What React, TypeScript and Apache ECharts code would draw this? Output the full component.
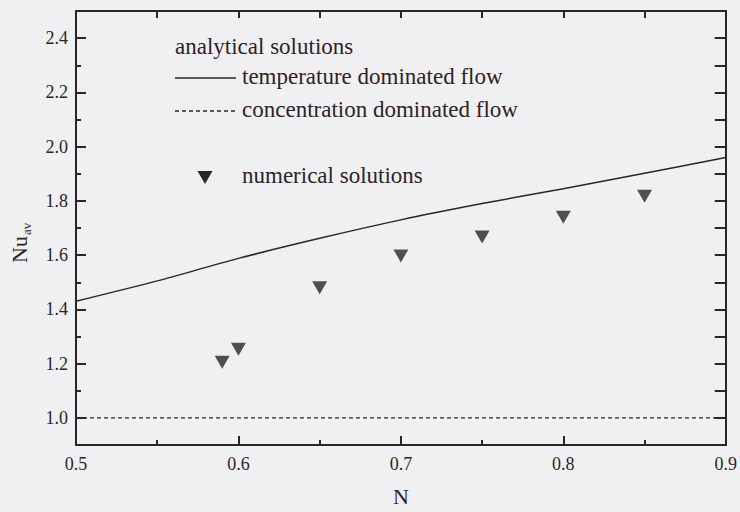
import React, { useEffect, useRef } from "react";
import * as echarts from "echarts";

const nAnalytical = [0.5, 0.55, 0.6, 0.65, 0.7, 0.75, 0.8, 0.85, 0.9];
const nuTemperature = [1.43, 1.505, 1.588, 1.662, 1.73, 1.79, 1.845, 1.902, 1.96];
const nConcentration = [0.5, 0.9];
const nuConcentration = [1.0, 1.0];
const nNumerical = [0.59, 0.6, 0.65, 0.7, 0.75, 0.8, 0.85];
const nuNumerical = [1.205, 1.253, 1.48, 1.597, 1.667, 1.74, 1.817];
const yMajorTicks = [1.0, 1.2, 1.4, 1.6, 1.8, 2.0, 2.2, 2.4];
const yMinorTicks = [1.1, 1.3, 1.5, 1.7, 1.9, 2.1, 2.3];
const yRightTicks = [1.0, 1.1, 1.2, 1.3, 1.4, 1.5, 1.6, 1.7, 1.8, 1.9, 2.0, 2.1, 2.2, 2.3, 2.4];
const xTopTicks = [0.55, 0.6, 0.65, 0.7, 0.75, 0.8, 0.85];
const legendTitle = "analytical solutions";
const legendTemp = "temperature dominated flow";
const legendConc = "concentration dominated flow";
const legendNum = "numerical solutions";

const INK = "#2e2329";
const FONT = "Liberation Serif";

export default function App() {
  const ref = useRef<HTMLDivElement>(null);
  useEffect(() => {
    if (!ref.current) return;
    const chart = echarts.init(ref.current, undefined, { renderer: "svg" });
    const yBase = {
      type: "value",
      min: 0.9,
      max: 2.5,
      splitLine: { show: false },
      axisLine: { show: false },
      axisLabel: { show: false },
    };
    const txt = (text: string, left: number, top: number, size = 23) => ({
      type: "text",
      left,
      top,
      style: { text, fill: INK, fontFamily: FONT, fontSize: size },
    });
    chart.setOption({
      animation: false,
      backgroundColor: "#f0f0f2",
      textStyle: { fontFamily: FONT },
      grid: { left: 76, right: 12, top: 11, bottom: 63, containLabel: false },
      xAxis: [
        {
          type: "value",
          min: 0.5,
          max: 0.9,
          interval: 0.1,
          position: "bottom",
          splitLine: { show: false },
          axisLine: { show: true, onZero: false, lineStyle: { color: INK, width: 2 } },
          axisTick: { show: true, inside: true, length: 9, lineStyle: { color: INK, width: 2 } },
          minorTick: { show: true, splitNumber: 2, length: 5, lineStyle: { color: INK, width: 2 } },
          axisLabel: {
            color: INK,
            fontFamily: FONT,
            fontSize: 18,
            margin: 10,
            formatter: (v: number) => v.toFixed(1),
          },
          name: "N",
          nameLocation: "middle",
          nameGap: 40,
          nameTextStyle: { color: INK, fontFamily: FONT, fontSize: 22 },
        },
        {
          type: "value",
          min: 0.5,
          max: 0.9,
          position: "top",
          splitLine: { show: false },
          axisLine: { show: true, onZero: false, lineStyle: { color: INK, width: 2 } },
          axisTick: {
            show: true,
            inside: true,
            length: 7,
            customValues: xTopTicks,
            lineStyle: { color: INK, width: 2 },
          },
          axisLabel: { show: false },
        },
      ],
      yAxis: [
        {
          ...yBase,
          position: "left",
          axisLine: { show: true, onZero: false, lineStyle: { color: INK, width: 2 } },
          axisTick: {
            show: true,
            inside: true,
            length: 10,
            customValues: yMajorTicks,
            lineStyle: { color: INK, width: 2 },
          },
          axisLabel: {
            show: true,
            customValues: yMajorTicks,
            color: INK,
            fontFamily: FONT,
            fontSize: 18,
            margin: 8,
            formatter: (v: number) => v.toFixed(1),
          },
        },
        {
          ...yBase,
          position: "left",
          axisTick: {
            show: true,
            inside: true,
            length: 5,
            customValues: yMinorTicks,
            lineStyle: { color: INK, width: 2 },
          },
        },
        {
          ...yBase,
          position: "right",
          axisLine: { show: true, onZero: false, lineStyle: { color: INK, width: 2 } },
          axisTick: {
            show: true,
            inside: true,
            length: 11,
            customValues: yRightTicks,
            lineStyle: { color: INK, width: 2 },
          },
        },
      ],
      series: [
        {
          type: "line",
          xAxisIndex: 0,
          yAxisIndex: 0,
          data: nAnalytical.map((n, i) => [n, nuTemperature[i]]),
          showSymbol: false,
          smooth: 0.3,
          lineStyle: { color: INK, width: 1.5 },
        },
        {
          type: "line",
          xAxisIndex: 0,
          yAxisIndex: 0,
          data: nConcentration.map((n, i) => [n, nuConcentration[i]]),
          showSymbol: false,
          lineStyle: { color: INK, width: 1.4, type: [4, 3] },
        },
        {
          type: "scatter",
          xAxisIndex: 0,
          yAxisIndex: 0,
          data: nNumerical.map((n, i) => [n, nuNumerical[i]]),
          symbol: "triangle",
          symbolRotate: 180,
          symbolSize: [15, 13],
          itemStyle: { color: INK },
        },
      ],
      graphic: [
        txt(legendTitle, 175, 35),
        {
          type: "line",
          shape: { x1: 175, y1: 78, x2: 236, y2: 78 },
          style: { stroke: INK, lineWidth: 1.4 },
        },
        txt(legendTemp, 242, 65),
        {
          type: "line",
          shape: { x1: 175, y1: 111, x2: 236, y2: 111 },
          style: { stroke: INK, lineWidth: 1.4, lineDash: [4, 3] },
        },
        txt(legendConc, 242, 98),
        {
          type: "polygon",
          shape: { points: [[197.5, 171], [212.5, 171], [205, 184]] },
          style: { fill: INK },
        },
        txt(legendNum, 242, 164),
        {
          type: "group",
          x: 19,
          y: 248,
          rotation: Math.PI / 2,
          children: [
            {
              type: "text",
              x: -15,
              y: 0,
              style: { text: "Nu", fill: INK, fontFamily: FONT, fontSize: 22, verticalAlign: "middle", align: "left" },
            },
            {
              type: "text",
              x: 13,
              y: 7,
              style: { text: "av", fill: INK, fontFamily: FONT, fontSize: 13, verticalAlign: "middle", align: "left" },
            },
          ],
        },
      ],
    });
    return () => chart.dispose();
  }, []);
  return (
    <div
      ref={ref}
      style={{ position: "fixed", left: 0, top: 0, width: 740, height: 512 }}
    />
  );
}
